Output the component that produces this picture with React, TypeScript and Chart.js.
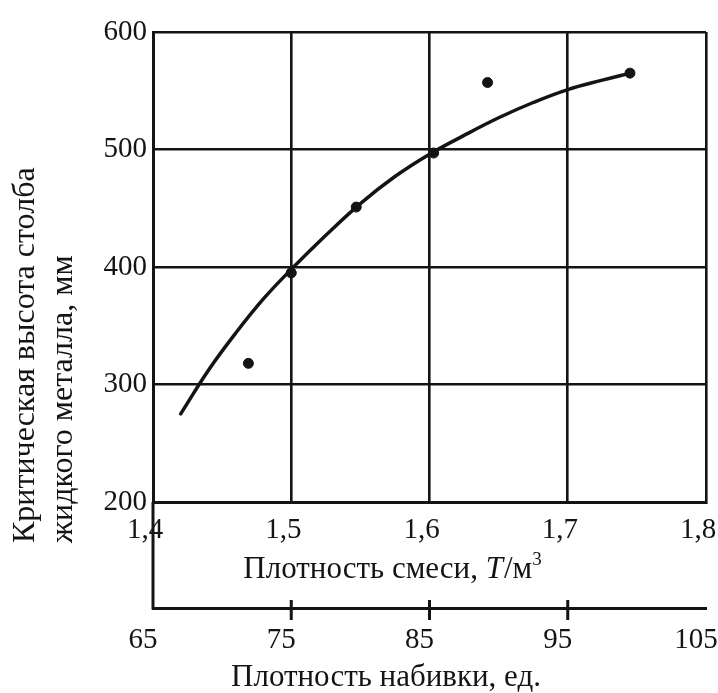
import React, { useEffect, useRef } from "react";
import { Chart, registerables } from "chart.js";

Chart.register(...registerables);

// Axis ticks
const densityTicks = [1.4, 1.5, 1.6, 1.7, 1.8];
const packingTicks = [65, 75, 85, 95, 105];
const packingMarks = [75, 85, 95];
const heightTicks = [200, 300, 400, 500, 600];

// Fitted curve (density, critical height)
const curveX = [1.42, 1.44, 1.46, 1.48, 1.5, 1.525, 1.55, 1.575, 1.6, 1.625, 1.65, 1.675, 1.7, 1.725, 1.745];
const curveY = [275, 312, 344, 373, 398, 427, 454, 477, 496, 512, 527, 540, 551, 559, 565];

// Measured points
const pointX = [1.469, 1.5, 1.547, 1.603, 1.642, 1.745];
const pointY = [318, 395, 451, 497, 557, 565];

// Texts
const yTitleLines = ["Критическая высота столба", "жидкого металла, мм"];
const xTitleMain = "Плотность смеси, ";
const xTitleItalic = "T";
const xTitleUnit = "/м";
const xTitleSup = "3";
const x2Title = "Плотность набивки, ед.";

const FONT = "'Liberation Serif', 'DejaVu Serif', serif";
const INK = "#141414";

const extrasPlugin = {
  id: "extras",
  afterDraw(chart: any) {
    const { ctx, chartArea, scales } = chart;
    const x2 = scales.x2;
    ctx.save();
    ctx.strokeStyle = INK;
    ctx.lineWidth = 3;
    ctx.lineCap = "butt";
    // left line continues down to the second axis
    ctx.beginPath();
    ctx.moveTo(chartArea.left, chartArea.bottom);
    ctx.lineTo(chartArea.left, x2.top + 1.5);
    ctx.stroke();
    // tick marks crossing the second axis
    packingMarks.forEach((v) => {
      const px = x2.getPixelForValue(v);
      ctx.beginPath();
      ctx.moveTo(px, x2.top - 8);
      ctx.lineTo(px, x2.top + 12);
      ctx.stroke();
    });

    ctx.fillStyle = INK;
    ctx.textBaseline = "alphabetic";
    // x title with italic T and superscript
    const sz = 31;
    const fN = `${sz}px ${FONT}`;
    const fI = `italic ${sz}px ${FONT}`;
    const fS = `${Math.round(sz * 0.62)}px ${FONT}`;
    ctx.font = fN;
    const w1 = ctx.measureText(xTitleMain).width;
    const w3 = ctx.measureText(xTitleUnit).width;
    ctx.font = fI;
    const w2 = ctx.measureText(xTitleItalic).width;
    ctx.font = fS;
    const w4 = ctx.measureText(xTitleSup).width;
    const total = w1 + w2 + w3 + w4;
    let tx = 392 - total / 2;
    const ty = 578;
    ctx.textAlign = "left";
    ctx.font = fN;
    ctx.fillText(xTitleMain, tx, ty);
    tx += w1;
    ctx.font = fI;
    ctx.fillText(xTitleItalic, tx, ty);
    tx += w2 + 1;
    ctx.font = fN;
    ctx.fillText(xTitleUnit, tx, ty);
    tx += w3;
    ctx.font = fS;
    ctx.fillText(xTitleSup, tx, ty - 13);

    // second x title
    ctx.font = fN;
    ctx.textAlign = "center";
    ctx.fillText(x2Title, 386, 686);

    // y title, rotated, bottom aligned
    ctx.save();
    ctx.translate(34, 543);
    ctx.rotate(-Math.PI / 2);
    ctx.textAlign = "left";
    ctx.font = `32px ${FONT}`;
    ctx.fillText(yTitleLines[0], 0, 0);
    ctx.fillText(yTitleLines[1], 0, 38);
    ctx.restore();

    ctx.restore();
  },
};

const fmt = (v: number) => String(v).replace(".", ",");

export default function App() {
  const ref = useRef<HTMLCanvasElement | null>(null);

  useEffect(() => {
    if (!ref.current) return;
    const chart = new Chart(ref.current, {
      type: "scatter",
      data: {
        datasets: [
          {
            type: "line",
            data: curveX.map((x, i) => ({ x, y: curveY[i] })),
            borderColor: INK,
            borderWidth: 3.5,
            pointRadius: 0,
            tension: 0.4,
            borderCapStyle: "round",
            xAxisID: "x",
            yAxisID: "y",
          } as any,
          {
            type: "scatter",
            data: pointX.map((x, i) => ({ x, y: pointY[i] })),
            backgroundColor: INK,
            borderColor: INK,
            pointRadius: 5,
            xAxisID: "x",
            yAxisID: "y",
          },
        ],
      },
      options: {
        animation: false,
        responsive: false,
        maintainAspectRatio: false,
        layout: { padding: { top: 32, right: 12, left: 0, bottom: 0 } },
        plugins: { legend: { display: false }, tooltip: { enabled: false } },
        scales: {
          y: {
            type: "linear",
            min: 200,
            max: 600,
            afterBuildTicks: (s: any) => {
              s.ticks = heightTicks.map((value) => ({ value }));
            },
            afterFit: (s: any) => {
              s.width = 153;
              s.paddingTop = 0;
              s.paddingBottom = 0;
            },
            ticks: {
              color: INK,
              font: { family: FONT, size: 29 },
              padding: 6,
            },
            grid: { color: INK, lineWidth: 2.6, drawTicks: false },
            border: { color: INK, width: 3 },
          },
          x: {
            type: "linear",
            position: "bottom",
            weight: 0,
            min: 1.4,
            max: 1.8,
            afterBuildTicks: (s: any) => {
              s.ticks = densityTicks.map((value) => ({ value }));
            },
            afterFit: (s: any) => {
              s.height = 106;
              s.paddingLeft = 0;
              s.paddingRight = 0;
            },
            ticks: {
              color: INK,
              font: { family: FONT, size: 29 },
              padding: 11,
              labelOffset: -8,
              maxRotation: 0,
              callback: (v: any) => fmt(Number(v)),
            },
            grid: { color: INK, lineWidth: 2.6, drawTicks: false },
            border: { color: INK, width: 3 },
          },
          x2: {
            type: "linear",
            position: "bottom",
            weight: 1,
            min: 65,
            max: 105,
            afterBuildTicks: (s: any) => {
              s.ticks = packingTicks.map((value) => ({ value }));
            },
            afterFit: (s: any) => {
              s.height = 85;
              s.paddingLeft = 0;
              s.paddingRight = 0;
            },
            ticks: {
              color: INK,
              font: { family: FONT, size: 29 },
              padding: 15,
              labelOffset: -10,
              maxRotation: 0,
            },
            grid: { display: true, drawOnChartArea: false, drawTicks: false, color: "rgba(0,0,0,0)" },
            border: { color: INK, width: 3 },
          },
        },
      } as any,
      plugins: [extrasPlugin],
    });
    return () => chart.destroy();
  }, []);

  return (
    <div style={{ position: "absolute", left: 0, top: 0, width: 718, height: 693, background: "#fff" }}>
      <canvas ref={ref} width={718} height={693} style={{ width: 718, height: 693, display: "block" }} />
    </div>
  );
}
